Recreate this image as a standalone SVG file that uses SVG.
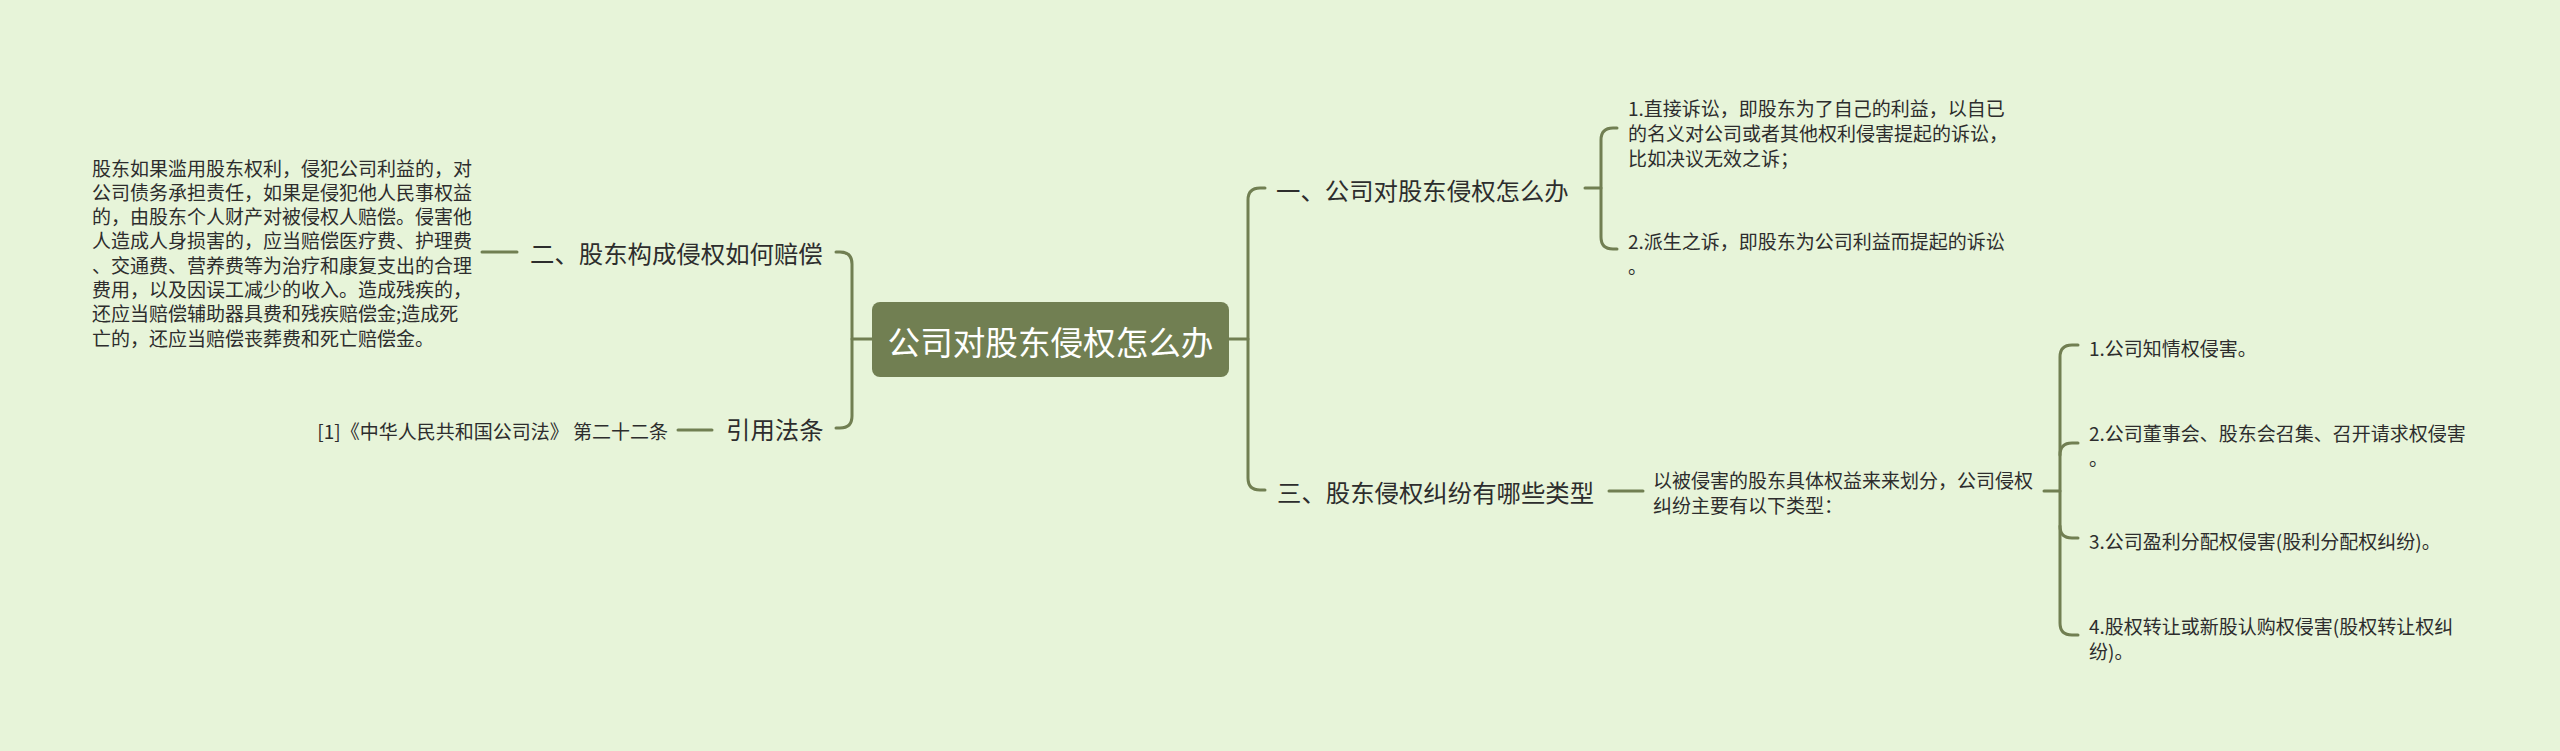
<svg xmlns="http://www.w3.org/2000/svg" width="2560" height="751" viewBox="0 0 2560 751">
<style>
text{font-family:"Noto Sans CJK SC","Noto Sans",sans-serif;fill:#2d2d2d;dominant-baseline:central}
.root{font-size:32.6px;fill:#ffffff}
.br{font-size:24.4px}
.lf{font-size:19px}
.ln{fill:none;stroke:#717f52;stroke-width:3;stroke-linecap:round;stroke-linejoin:round}
</style>
<rect width="2560" height="751" fill="#e7f4d9"/>
<g id="connectors">
<path class="ln" d="M852,339 L872,339"/>
<path class="ln" d="M836,252 L840,252 Q852,252 852,264 L852,416 Q852,428 840,428 L836,428"/>
<path class="ln" d="M1229,339 L1248,339"/>
<path class="ln" d="M1265,188 L1260,188 Q1248,188 1248,200 L1248,478 Q1248,490 1260,490 L1265,490"/>
<path class="ln" d="M482,252 L517,252"/>
<path class="ln" d="M678,430 L712,430"/>
<path class="ln" d="M1585,188 L1601,188"/>
<path class="ln" d="M1617,128 L1613,128 Q1601,128 1601,140 L1601,237 Q1601,249 1613,249 L1617,249"/>
<path class="ln" d="M1609,491 L1643,491"/>
<path class="ln" d="M2044,491 L2060,491"/>
<path class="ln" d="M2078,345 L2072,345 Q2060,345 2060,357 L2060,623 Q2060,635 2072,635 L2078,635"/>
<path class="ln" d="M2060,455 Q2060,443 2072,443 L2078,443"/>
<path class="ln" d="M2060,526 Q2060,538 2072,538 L2078,538"/>
</g>
<g id="root">
<rect x="872" y="302" width="357" height="75" rx="8" fill="#717f52"/>
<text class="root" x="1050.5" y="340" text-anchor="middle">公司对股东侵权怎么办</text>
</g>
<g id="n2">
<text class="br" x="530" y="252">二、股东构成侵权如何赔偿</text>
</g>
<g id="n2-detail">
<text class="lf" x="92" y="167">股东如果滥用股东权利，侵犯公司利益的，对</text>
<text class="lf" x="92" y="191.3">公司债务承担责任，如果是侵犯他人民事权益</text>
<text class="lf" x="92" y="215.6">的，由股东个人财产对被侵权人赔偿。侵害他</text>
<text class="lf" x="92" y="239.9">人造成人身损害的，应当赔偿医疗费、护理费</text>
<text class="lf" x="92" y="264.2">、交通费、营养费等为治疗和康复支出的合理</text>
<text class="lf" x="92" y="288.5">费用，以及因误工减少的收入。造成残疾的，</text>
<text class="lf" x="92" y="312.8">还应当赔偿辅助器具费和残疾赔偿金;造成死</text>
<text class="lf" x="92" y="337.1">亡的，还应当赔偿丧葬费和死亡赔偿金。</text>
</g>
<g id="n4">
<text class="br" x="726" y="428">引用法条</text>
</g>
<g id="n4-detail">
<text class="lf" x="668" y="430" text-anchor="end">[1]《中华人民共和国公司法》 第二十二条</text>
</g>
<g id="n1">
<text class="br" x="1276" y="189">一、公司对股东侵权怎么办</text>
</g>
<g id="n1-a">
<text class="lf" x="1628" y="107">1.直接诉讼，即股东为了自己的利益，以自已</text>
<text class="lf" x="1628" y="132">的名义对公司或者其他权利侵害提起的诉讼，</text>
<text class="lf" x="1628" y="157">比如决议无效之诉；</text>
</g>
<g id="n1-b">
<text class="lf" x="1628" y="240">2.派生之诉，即股东为公司利益而提起的诉讼</text>
<text class="lf" x="1628" y="265">。</text>
</g>
<g id="n3">
<text class="br" x="1277" y="491">三、股东侵权纠纷有哪些类型</text>
</g>
<g id="n3-a">
<text class="lf" x="1653" y="479">以被侵害的股东具体权益来来划分，公司侵权</text>
<text class="lf" x="1653" y="504">纠纷主要有以下类型：</text>
</g>
<g id="n3-a1">
<text class="lf" x="2089" y="347">1.公司知情权侵害。</text>
</g>
<g id="n3-a2">
<text class="lf" x="2089" y="432">2.公司董事会、股东会召集、召开请求权侵害</text>
<text class="lf" x="2089" y="457">。</text>
</g>
<g id="n3-a3">
<text class="lf" x="2089" y="540">3.公司盈利分配权侵害(股利分配权纠纷)。</text>
</g>
<g id="n3-a4">
<text class="lf" x="2089" y="625">4.股权转让或新股认购权侵害(股权转让权纠</text>
<text class="lf" x="2089" y="650">纷)。</text>
</g>
</svg>
